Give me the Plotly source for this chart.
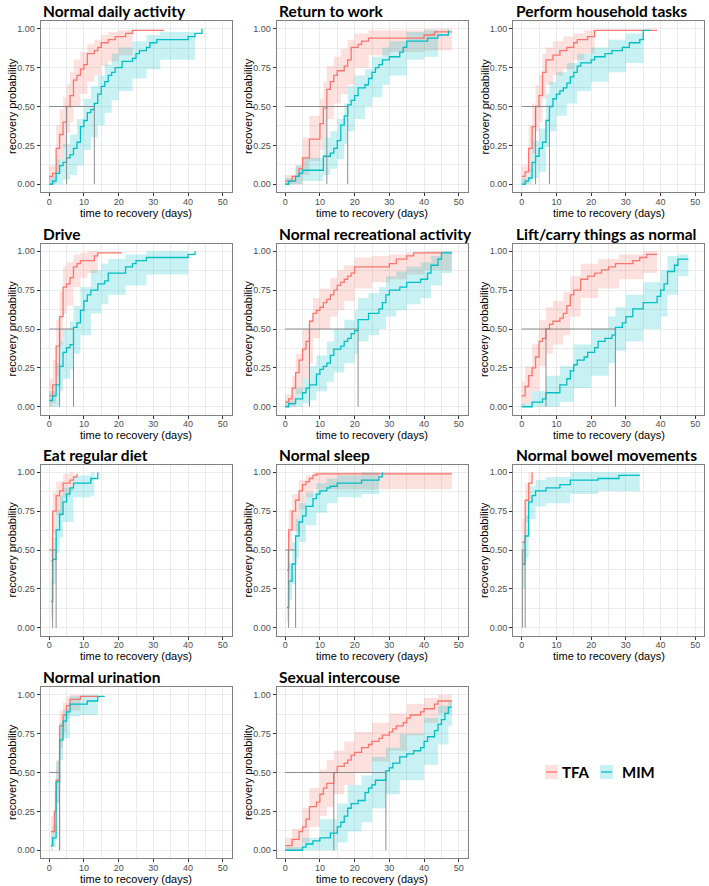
import plotly.graph_objects as go

# ---------------- data ----------------
titles = ["Normal daily activity", "Return to work", "Perform household tasks",
          "Drive", "Normal recreational activity", "Lift/carry things as normal",
          "Eat regular diet", "Normal sleep", "Normal bowel movements",
          "Normal urination", "Sexual intercouse"]
groups = ["TFA", "MIM"]
x_ticks = [0, 10, 20, 30, 40, 50]
y_ticks = [0, 0.25, 0.5, 0.75, 1.0]
y_tick_labels = ["0.00", "0.25", "0.50", "0.75", "1.00"]

# Normal daily activity
daily_tfa_t = [0, 1, 2, 3, 4, 5, 6, 7, 8, 9, 10, 11, 13, 14, 15, 17, 19, 22, 24, 33]
daily_tfa_p = [0.05, 0.07, 0.23, 0.32, 0.40, 0.50, 0.57, 0.67, 0.70, 0.74, 0.77, 0.84, 0.86, 0.88, 0.91, 0.93, 0.95, 0.97, 0.99, 0.99]
daily_tfa_bt = [0, 2, 3, 4, 5, 6, 7, 9, 11, 13, 15, 17, 20, 24]
daily_tfa_lo = [0.0, 0.08, 0.16, 0.24, 0.33, 0.40, 0.50, 0.58, 0.66, 0.70, 0.76, 0.79, 0.83, 0.83]
daily_tfa_hi = [0.12, 0.38, 0.48, 0.56, 0.64, 0.72, 0.80, 0.85, 0.90, 0.93, 0.96, 0.98, 0.99, 0.99]
daily_mim_t = [0, 1, 2, 3, 4, 5, 6, 7, 8, 9, 10, 11, 12, 13, 14, 15, 16, 17, 18, 19, 21, 24, 25, 26, 28, 29, 31, 40, 42, 44]
daily_mim_p = [0.0, 0.02, 0.07, 0.12, 0.14, 0.17, 0.19, 0.23, 0.27, 0.37, 0.41, 0.46, 0.48, 0.52, 0.58, 0.63, 0.66, 0.70, 0.72, 0.75, 0.79, 0.81, 0.84, 0.86, 0.88, 0.91, 0.93, 0.95, 0.97, 1.00]
daily_mim_bt = [0, 2, 4, 6, 8, 10, 12, 14, 16, 18, 20, 24, 28, 32, 42]
daily_mim_lo = [0.0, 0.0, 0.03, 0.06, 0.12, 0.22, 0.30, 0.38, 0.46, 0.54, 0.60, 0.68, 0.74, 0.80, 0.80]
daily_mim_hi = [0.05, 0.16, 0.26, 0.32, 0.42, 0.55, 0.63, 0.70, 0.77, 0.84, 0.88, 0.92, 0.96, 0.98, 0.98]
daily_medians = [5, 13]

# Return to work
work_tfa_t = [0, 2, 4, 5, 7, 10, 11, 12, 13, 14, 15, 17, 18, 19, 21, 22, 24, 40, 43, 48]
work_tfa_p = [0.02, 0.05, 0.10, 0.17, 0.29, 0.39, 0.49, 0.61, 0.66, 0.70, 0.73, 0.76, 0.80, 0.88, 0.90, 0.92, 0.94, 0.96, 0.98, 0.98]
work_tfa_bt = [0, 3, 5, 7, 10, 11, 12, 14, 16, 18, 20, 24, 30, 40, 48]
work_tfa_lo = [0.0, 0.0, 0.06, 0.15, 0.22, 0.30, 0.42, 0.52, 0.58, 0.64, 0.75, 0.83, 0.85, 0.86, 0.86]
work_tfa_hi = [0.06, 0.12, 0.30, 0.44, 0.55, 0.66, 0.76, 0.82, 0.87, 0.93, 0.97, 0.99, 0.99, 1.0, 1.0]
work_mim_t = [0, 1, 3, 4, 5, 11, 13, 14, 15, 16, 17, 18, 19, 20, 21, 23, 24, 25, 26, 27, 28, 30, 33, 34, 35, 41, 44, 47]
work_mim_p = [0.0, 0.02, 0.05, 0.07, 0.09, 0.18, 0.20, 0.23, 0.28, 0.38, 0.44, 0.51, 0.54, 0.57, 0.62, 0.64, 0.68, 0.72, 0.75, 0.77, 0.80, 0.82, 0.85, 0.88, 0.92, 0.94, 0.96, 0.99]
work_mim_bt = [0, 3, 5, 10, 11, 13, 15, 17, 18, 20, 23, 25, 28, 30, 35, 40, 44]
work_mim_lo = [0.0, 0.0, 0.02, 0.02, 0.06, 0.10, 0.16, 0.26, 0.34, 0.42, 0.50, 0.56, 0.64, 0.70, 0.80, 0.82, 0.82]
work_mim_hi = [0.04, 0.12, 0.17, 0.17, 0.30, 0.34, 0.42, 0.52, 0.63, 0.70, 0.74, 0.82, 0.88, 0.92, 0.98, 0.99, 0.99]
work_medians = [12, 18]

# Perform household tasks
house_tfa_t = [0, 1, 2, 3, 4, 5, 6, 7, 9, 11, 13, 15, 16, 19, 21, 39]
house_tfa_p = [0.05, 0.08, 0.23, 0.37, 0.50, 0.57, 0.72, 0.80, 0.83, 0.86, 0.88, 0.91, 0.93, 0.95, 0.99, 0.99]
house_tfa_bt = [0, 2, 3, 4, 5, 6, 7, 9, 12, 15, 18, 21]
house_tfa_lo = [0.0, 0.08, 0.20, 0.34, 0.40, 0.55, 0.64, 0.70, 0.74, 0.80, 0.84, 0.84]
house_tfa_hi = [0.12, 0.38, 0.52, 0.64, 0.70, 0.84, 0.88, 0.92, 0.95, 0.97, 0.99, 0.99]
house_mim_t = [0, 1, 2, 3, 4, 5, 6, 7, 8, 9, 10, 11, 12, 13, 14, 15, 16, 17, 20, 21, 24, 26, 29, 31, 34, 35, 37]
house_mim_p = [0.0, 0.02, 0.04, 0.14, 0.18, 0.23, 0.27, 0.41, 0.50, 0.55, 0.58, 0.60, 0.62, 0.65, 0.69, 0.72, 0.76, 0.78, 0.80, 0.82, 0.84, 0.86, 0.88, 0.91, 0.93, 0.99, 0.99]
house_mim_bt = [0, 2, 3, 5, 7, 8, 10, 13, 16, 20, 25, 30, 35]
house_mim_lo = [0.0, 0.0, 0.04, 0.08, 0.24, 0.34, 0.44, 0.52, 0.60, 0.66, 0.72, 0.78, 0.78]
house_mim_hi = [0.04, 0.10, 0.28, 0.36, 0.58, 0.66, 0.72, 0.78, 0.84, 0.88, 0.93, 0.97, 0.97]
house_medians = [4, 8]

# Drive
drive_tfa_t = [0, 1, 2, 3, 4, 5, 6, 7, 8, 9, 13, 14, 21]
drive_tfa_p = [0.07, 0.14, 0.39, 0.58, 0.77, 0.79, 0.83, 0.90, 0.92, 0.94, 0.97, 0.99, 0.99]
drive_tfa_bt = [0, 1, 2, 3, 4, 5, 7, 9, 11, 14]
drive_tfa_lo = [0.0, 0.02, 0.20, 0.40, 0.60, 0.65, 0.77, 0.83, 0.86, 0.86]
drive_tfa_hi = [0.18, 0.30, 0.56, 0.74, 0.90, 0.93, 0.98, 0.99, 1.0, 1.0]
drive_mim_t = [0, 1, 2, 3, 4, 5, 6, 7, 8, 9, 10, 11, 12, 14, 16, 17, 22, 24, 25, 28, 40, 42]
drive_mim_p = [0.04, 0.07, 0.14, 0.26, 0.35, 0.38, 0.40, 0.51, 0.54, 0.62, 0.68, 0.72, 0.75, 0.79, 0.81, 0.86, 0.90, 0.92, 0.94, 0.96, 0.98, 1.00]
drive_mim_bt = [0, 2, 3, 4, 6, 7, 9, 12, 15, 17, 22, 28, 40]
drive_mim_lo = [0.0, 0.0, 0.10, 0.18, 0.24, 0.34, 0.46, 0.60, 0.66, 0.72, 0.78, 0.85, 0.85]
drive_mim_hi = [0.10, 0.28, 0.42, 0.50, 0.55, 0.65, 0.77, 0.88, 0.92, 0.95, 0.98, 1.0, 1.0]
drive_medians = [3, 7]

# Normal recreational activity
recr_tfa_t = [0, 1, 2, 3, 4, 5, 6, 7, 8, 9, 10, 11, 12, 13, 14, 15, 16, 17, 18, 19, 20, 30, 32, 35, 37, 45]
recr_tfa_p = [0.03, 0.05, 0.12, 0.22, 0.30, 0.37, 0.42, 0.55, 0.60, 0.62, 0.64, 0.67, 0.69, 0.72, 0.75, 0.78, 0.80, 0.82, 0.84, 0.86, 0.90, 0.92, 0.95, 0.97, 0.99, 0.99]
recr_tfa_bt = [0, 2, 3, 5, 7, 8, 10, 13, 15, 17, 20, 25, 30, 35, 40, 48]
recr_tfa_lo = [0.0, 0.0, 0.08, 0.18, 0.28, 0.44, 0.50, 0.58, 0.62, 0.68, 0.76, 0.80, 0.82, 0.85, 0.88, 0.88]
recr_tfa_hi = [0.08, 0.20, 0.34, 0.50, 0.56, 0.70, 0.76, 0.83, 0.88, 0.91, 0.96, 0.97, 0.98, 0.99, 1.0, 1.0]
recr_mim_t = [0, 1, 3, 5, 6, 7, 9, 10, 11, 12, 13, 14, 16, 17, 18, 19, 20, 21, 24, 27, 28, 29, 30, 33, 35, 39, 41, 42, 44, 45, 48]
recr_mim_p = [0.0, 0.02, 0.05, 0.09, 0.12, 0.14, 0.21, 0.24, 0.26, 0.28, 0.33, 0.37, 0.39, 0.42, 0.44, 0.47, 0.49, 0.56, 0.60, 0.63, 0.67, 0.72, 0.75, 0.77, 0.80, 0.82, 0.86, 0.91, 0.95, 0.99, 0.99]
recr_mim_bt = [0, 3, 5, 7, 9, 12, 14, 17, 20, 21, 24, 27, 29, 32, 35, 39, 42, 45, 48]
recr_mim_lo = [0.0, 0.0, 0.02, 0.04, 0.10, 0.16, 0.22, 0.28, 0.34, 0.42, 0.46, 0.50, 0.58, 0.62, 0.66, 0.70, 0.78, 0.86, 0.86]
recr_mim_hi = [0.04, 0.12, 0.18, 0.26, 0.33, 0.42, 0.50, 0.56, 0.62, 0.70, 0.73, 0.77, 0.84, 0.87, 0.90, 0.93, 0.97, 1.0, 1.0]
recr_medians = [7, 21]

# Lift/carry things as normal
lift_tfa_t = [0, 1, 2, 3, 4, 5, 6, 7, 8, 9, 11, 12, 13, 14, 15, 17, 19, 21, 23, 25, 27, 32, 34, 36, 39]
lift_tfa_p = [0.07, 0.13, 0.20, 0.25, 0.32, 0.42, 0.44, 0.50, 0.53, 0.55, 0.57, 0.60, 0.65, 0.72, 0.75, 0.82, 0.84, 0.86, 0.88, 0.90, 0.92, 0.94, 0.96, 0.98, 0.98]
lift_tfa_bt = [0, 1, 3, 5, 7, 9, 12, 14, 17, 22, 28, 35, 39]
lift_tfa_lo = [0.0, 0.02, 0.10, 0.26, 0.34, 0.40, 0.46, 0.58, 0.70, 0.76, 0.82, 0.86, 0.86]
lift_tfa_hi = [0.16, 0.26, 0.40, 0.56, 0.64, 0.68, 0.74, 0.84, 0.92, 0.95, 0.98, 1.0, 1.0]
lift_mim_t = [0, 3, 6, 7, 11, 13, 14, 15, 16, 18, 19, 21, 22, 24, 26, 27, 29, 30, 32, 35, 39, 40, 41, 42, 44, 45, 48]
lift_mim_p = [0.0, 0.03, 0.05, 0.09, 0.14, 0.18, 0.23, 0.27, 0.30, 0.32, 0.35, 0.38, 0.42, 0.44, 0.46, 0.51, 0.54, 0.58, 0.63, 0.67, 0.71, 0.75, 0.79, 0.87, 0.91, 0.95, 0.95]
lift_mim_bt = [0, 3, 7, 11, 15, 20, 25, 27, 30, 35, 40, 42, 45, 48]
lift_mim_lo = [0.0, 0.0, 0.0, 0.03, 0.12, 0.20, 0.28, 0.36, 0.42, 0.50, 0.58, 0.72, 0.84, 0.84]
lift_mim_hi = [0.02, 0.10, 0.20, 0.26, 0.40, 0.50, 0.58, 0.64, 0.72, 0.80, 0.88, 0.97, 0.98, 0.98]
lift_medians = [7, 27]

# Eat regular diet
diet_tfa_t = [0.5, 1, 2, 3, 4, 6, 7, 8]
diet_tfa_p = [0.43, 0.75, 0.85, 0.88, 0.93, 0.95, 0.97, 0.99]
diet_tfa_bt = [0.5, 1, 2, 4, 6, 7]
diet_tfa_lo = [0.28, 0.60, 0.72, 0.84, 0.88, 0.88]
diet_tfa_hi = [0.58, 0.87, 0.94, 0.99, 1.0, 1.0]
diet_mim_t = [0.5, 1, 2, 3, 4, 5, 6, 7, 12, 14]
diet_mim_p = [0.17, 0.44, 0.63, 0.73, 0.81, 0.86, 0.90, 0.93, 0.96, 1.00]
diet_mim_bt = [0.5, 1, 2, 3, 4, 7, 12, 13]
diet_mim_lo = [0.06, 0.28, 0.48, 0.58, 0.68, 0.84, 0.85, 0.85]
diet_mim_hi = [0.30, 0.58, 0.76, 0.85, 0.90, 0.98, 1.0, 1.0]
diet_medians = [1, 2]

# Normal sleep
sleep_tfa_t = [0.5, 1, 2, 3, 4, 5, 6, 7, 8, 9, 48]
sleep_tfa_p = [0.37, 0.63, 0.75, 0.82, 0.88, 0.92, 0.94, 0.96, 0.98, 0.99, 0.99]
sleep_tfa_bt = [0.5, 1, 2, 4, 6, 8, 9, 48]
sleep_tfa_lo = [0.22, 0.50, 0.62, 0.76, 0.84, 0.89, 0.89, 0.89]
sleep_tfa_hi = [0.50, 0.76, 0.86, 0.95, 0.98, 1.0, 1.0, 1.0]
sleep_mim_t = [0.5, 1, 2, 3, 4, 5, 6, 8, 9, 10, 12, 13, 15, 22, 27, 28]
sleep_mim_p = [0.13, 0.30, 0.41, 0.59, 0.68, 0.72, 0.78, 0.83, 0.86, 0.88, 0.90, 0.91, 0.93, 0.95, 0.97, 1.00]
sleep_mim_bt = [0.5, 1, 2, 3, 4, 6, 9, 12, 15, 22, 27]
sleep_mim_lo = [0.04, 0.18, 0.28, 0.45, 0.55, 0.66, 0.74, 0.80, 0.84, 0.86, 0.86]
sleep_mim_hi = [0.22, 0.42, 0.55, 0.70, 0.80, 0.87, 0.93, 0.96, 0.98, 1.0, 1.0]
sleep_medians = [1, 3]

# Normal bowel movements
bowel_tfa_t = [0.2, 1, 2, 3]
bowel_tfa_p = [0.55, 0.82, 0.93, 1.00]
bowel_tfa_bt = [0.2, 1, 2, 2.5]
bowel_tfa_lo = [0.40, 0.68, 0.82, 0.82]
bowel_tfa_hi = [0.70, 0.93, 1.0, 1.0]
bowel_mim_t = [0.2, 1, 2, 3, 4, 7, 11, 14, 22, 28, 34]
bowel_mim_p = [0.41, 0.59, 0.81, 0.85, 0.88, 0.90, 0.92, 0.95, 0.96, 0.98, 0.98]
bowel_mim_bt = [0.2, 1, 2, 4, 7, 14, 22, 34]
bowel_mim_lo = [0.25, 0.45, 0.70, 0.78, 0.80, 0.86, 0.88, 0.88]
bowel_mim_hi = [0.55, 0.72, 0.91, 0.95, 0.97, 1.0, 1.0, 1.0]
bowel_medians = [0.2, 1]

# Normal urination
urin_tfa_t = [0.5, 1.5, 2, 3, 4, 5, 6, 9, 14]
urin_tfa_p = [0.12, 0.25, 0.45, 0.80, 0.87, 0.93, 0.97, 0.99, 0.99]
urin_tfa_bt = [0.5, 1.5, 2, 3, 4, 5, 6, 9]
urin_tfa_lo = [0.02, 0.12, 0.30, 0.66, 0.76, 0.85, 0.90, 0.90]
urin_tfa_hi = [0.22, 0.38, 0.58, 0.90, 0.95, 0.99, 1.0, 1.0]
urin_mim_t = [0.5, 1, 2, 3, 4, 5, 6, 11, 14, 16]
urin_mim_p = [0.03, 0.08, 0.44, 0.71, 0.83, 0.89, 0.94, 0.96, 0.99, 0.99]
urin_mim_bt = [0.5, 1, 2, 3, 4, 6, 9, 14]
urin_mim_lo = [0.0, 0.02, 0.30, 0.58, 0.72, 0.86, 0.87, 0.87]
urin_mim_hi = [0.10, 0.16, 0.57, 0.82, 0.91, 0.99, 1.0, 1.0]
urin_medians = [3, 3]

# Sexual intercourse
sex_tfa_t = [0, 2, 4, 5, 6, 7, 9, 10, 11, 12, 14, 15, 17, 18, 19, 20, 22, 24, 25, 27, 28, 30, 31, 32, 34, 35, 36, 39, 40, 43, 44, 48]
sex_tfa_p = [0.03, 0.07, 0.12, 0.15, 0.20, 0.28, 0.31, 0.36, 0.40, 0.43, 0.50, 0.54, 0.56, 0.58, 0.61, 0.63, 0.66, 0.68, 0.70, 0.72, 0.74, 0.76, 0.78, 0.80, 0.82, 0.85, 0.87, 0.89, 0.91, 0.94, 0.96, 0.96]
sex_tfa_bt = [0, 2, 5, 7, 10, 12, 14, 17, 20, 25, 30, 35, 40, 44, 48]
sex_tfa_lo = [0.0, 0.0, 0.05, 0.15, 0.22, 0.28, 0.36, 0.42, 0.50, 0.57, 0.64, 0.74, 0.82, 0.88, 0.88]
sex_tfa_hi = [0.08, 0.14, 0.27, 0.40, 0.52, 0.58, 0.64, 0.70, 0.76, 0.82, 0.88, 0.94, 0.98, 1.0, 1.0]
sex_mim_t = [0, 5, 6, 8, 10, 13, 15, 16, 17, 18, 19, 21, 23, 24, 25, 26, 29, 30, 31, 33, 35, 37, 39, 40, 41, 43, 44, 45, 46, 47, 48]
sex_mim_p = [0.0, 0.02, 0.04, 0.06, 0.08, 0.11, 0.15, 0.18, 0.22, 0.27, 0.30, 0.32, 0.37, 0.40, 0.42, 0.45, 0.51, 0.53, 0.56, 0.60, 0.62, 0.64, 0.66, 0.70, 0.73, 0.77, 0.81, 0.84, 0.88, 0.92, 0.92]
sex_mim_bt = [0, 5, 10, 15, 18, 22, 25, 29, 33, 40, 44, 47, 48]
sex_mim_lo = [0.0, 0.0, 0.0, 0.05, 0.12, 0.18, 0.27, 0.36, 0.45, 0.55, 0.68, 0.80, 0.80]
sex_mim_hi = [0.02, 0.08, 0.20, 0.30, 0.42, 0.48, 0.60, 0.66, 0.75, 0.85, 0.93, 0.96, 0.96]
sex_medians = [14, 29]

panels = [
    (daily_tfa_t, daily_tfa_p, daily_tfa_bt, daily_tfa_lo, daily_tfa_hi,
     daily_mim_t, daily_mim_p, daily_mim_bt, daily_mim_lo, daily_mim_hi, daily_medians),
    (work_tfa_t, work_tfa_p, work_tfa_bt, work_tfa_lo, work_tfa_hi,
     work_mim_t, work_mim_p, work_mim_bt, work_mim_lo, work_mim_hi, work_medians),
    (house_tfa_t, house_tfa_p, house_tfa_bt, house_tfa_lo, house_tfa_hi,
     house_mim_t, house_mim_p, house_mim_bt, house_mim_lo, house_mim_hi, house_medians),
    (drive_tfa_t, drive_tfa_p, drive_tfa_bt, drive_tfa_lo, drive_tfa_hi,
     drive_mim_t, drive_mim_p, drive_mim_bt, drive_mim_lo, drive_mim_hi, drive_medians),
    (recr_tfa_t, recr_tfa_p, recr_tfa_bt, recr_tfa_lo, recr_tfa_hi,
     recr_mim_t, recr_mim_p, recr_mim_bt, recr_mim_lo, recr_mim_hi, recr_medians),
    (lift_tfa_t, lift_tfa_p, lift_tfa_bt, lift_tfa_lo, lift_tfa_hi,
     lift_mim_t, lift_mim_p, lift_mim_bt, lift_mim_lo, lift_mim_hi, lift_medians),
    (diet_tfa_t, diet_tfa_p, diet_tfa_bt, diet_tfa_lo, diet_tfa_hi,
     diet_mim_t, diet_mim_p, diet_mim_bt, diet_mim_lo, diet_mim_hi, diet_medians),
    (sleep_tfa_t, sleep_tfa_p, sleep_tfa_bt, sleep_tfa_lo, sleep_tfa_hi,
     sleep_mim_t, sleep_mim_p, sleep_mim_bt, sleep_mim_lo, sleep_mim_hi, sleep_medians),
    (bowel_tfa_t, bowel_tfa_p, bowel_tfa_bt, bowel_tfa_lo, bowel_tfa_hi,
     bowel_mim_t, bowel_mim_p, bowel_mim_bt, bowel_mim_lo, bowel_mim_hi, bowel_medians),
    (urin_tfa_t, urin_tfa_p, urin_tfa_bt, urin_tfa_lo, urin_tfa_hi,
     urin_mim_t, urin_mim_p, urin_mim_bt, urin_mim_lo, urin_mim_hi, urin_medians),
    (sex_tfa_t, sex_tfa_p, sex_tfa_bt, sex_tfa_lo, sex_tfa_hi,
     sex_mim_t, sex_mim_p, sex_mim_bt, sex_mim_lo, sex_mim_hi, sex_medians),
]

# ---------------- styling ----------------
W, H = 709, 886
LINE_COL = {"TFA": "#F8766D", "MIM": "#00BFC4"}
FILL_COL = {"TFA": "rgba(248,118,109,0.22)", "MIM": "rgba(0,191,196,0.22)"}
MED_COL = "#8c8c8c"
GRID = "#ebebeb"
BORDER = "#808080"
AX_FONT = "Liberation Sans, Arial, sans-serif"
TITLE_FONT = "Lato, Noto Sans, sans-serif"

col_x0 = [40.5, 276.5, 513.0]
row_y0 = [21.0, 243.5, 464.5, 687.0]
PW, PH = 191.0, 171.0


def px(x):
    return x / W


def py(y):
    return 1 - y / H


fig = go.Figure()
layout = dict(width=W, height=H, margin=dict(l=0, r=0, t=0, b=0),
              paper_bgcolor="white", plot_bgcolor="white", showlegend=False)
annotations = []
shapes = []

for i, (title, pdata) in enumerate(zip(titles, panels)):
    r, c = divmod(i, 3)
    x0, y0 = col_x0[c], row_y0[r]
    xs = "x" if i == 0 else f"x{i + 1}"
    ys = "y" if i == 0 else f"y{i + 1}"
    xa = "xaxis" if i == 0 else f"xaxis{i + 1}"
    ya = "yaxis" if i == 0 else f"yaxis{i + 1}"

    series = {"TFA": pdata[0:5], "MIM": pdata[5:10]}
    medians = pdata[10]

    # confidence bands
    for g in groups:
        t, p, bt, lo, hi = series[g]
        fig.add_trace(go.Scatter(x=bt, y=lo, mode="lines", line=dict(width=0, shape="hv"),
                                 xaxis=xs, yaxis=ys, hoverinfo="skip"))
        fig.add_trace(go.Scatter(x=bt, y=hi, mode="lines", line=dict(width=0, shape="hv"),
                                 fill="tonexty", fillcolor=FILL_COL[g],
                                 xaxis=xs, yaxis=ys, hoverinfo="skip"))
    # step curves
    for g in groups:
        t, p, bt, lo, hi = series[g]
        fig.add_trace(go.Scatter(x=t, y=p, mode="lines", name=g,
                                 line=dict(color=LINE_COL[g], width=1.3, shape="hv"),
                                 xaxis=xs, yaxis=ys))
    # median lines
    mx, my = [0, max(medians), None], [0.5, 0.5, None]
    for m in medians:
        mx += [m, m, None]
        my += [0, 0.5, None]
    fig.add_trace(go.Scatter(x=mx, y=my, mode="lines", line=dict(color=MED_COL, width=1),
                             xaxis=xs, yaxis=ys, hoverinfo="skip"))

    common = dict(showline=True, linecolor=BORDER, linewidth=1, mirror=True,
                  zeroline=False, showgrid=True, gridcolor=GRID, gridwidth=1,
                  ticks="outside", ticklen=3, tickcolor="#333333", tickwidth=1,
                  tickfont=dict(family=AX_FONT, size=9, color="#4d4d4d"))
    layout[xa] = dict(common, domain=[px(x0), px(x0 + PW)], anchor=ys,
                      range=[-2.5, 52.5], tickvals=x_ticks, ticklabelstandoff=-2,
                      minor=dict(tickvals=[5, 15, 25, 35, 45], showgrid=True,
                                 gridcolor=GRID, gridwidth=0.5, ticks=""))
    layout[ya] = dict(common, domain=[py(y0 + PH), py(y0)], anchor=xs,
                      range=[-0.05, 1.05], tickvals=y_ticks, ticktext=y_tick_labels,
                      minor=dict(tickvals=[0.125, 0.375, 0.625, 0.875], showgrid=True,
                                 gridcolor=GRID, gridwidth=0.5, ticks=""))

    # panel title
    annotations.append(dict(text=f"<b>{title}</b>", x=px(x0 + 0.5), y=py(y0 - 10),
                            xref="paper", yref="paper", xanchor="left", yanchor="middle",
                            showarrow=False, font=dict(family=TITLE_FONT, size=15.5, color="black")))
    # axis titles
    annotations.append(dict(text="time to recovery (days)", x=px(x0 + PW / 2), y=py(y0 + PH + 20.5),
                            xref="paper", yref="paper", xanchor="center", yanchor="middle",
                            showarrow=False, font=dict(family=AX_FONT, size=11, color="black")))
    annotations.append(dict(text="recovery probability", x=px(x0 - 29), y=py(y0 + PH / 2),
                            xref="paper", yref="paper", xanchor="center", yanchor="middle",
                            textangle=-90, showarrow=False,
                            font=dict(family=AX_FONT, size=11, color="black")))

# custom legend in the empty cell
leg_y = 772
for g, bx, tx in [("TFA", 545, 560), ("MIM", 600, 620)]:
    shapes.append(dict(type="rect", xref="paper", yref="paper",
                       x0=px(bx), x1=px(bx + 13), y0=py(leg_y + 7), y1=py(leg_y - 7),
                       fillcolor=FILL_COL[g], line=dict(width=0)))
    shapes.append(dict(type="line", xref="paper", yref="paper",
                       x0=px(bx + 1), x1=px(bx + 12), y0=py(leg_y), y1=py(leg_y),
                       line=dict(color=LINE_COL[g], width=1.3)))
    annotations.append(dict(text=f"<b>{g}</b>", x=px(tx), y=py(leg_y), xref="paper", yref="paper",
                            xanchor="left", yanchor="middle", showarrow=False,
                            font=dict(family=TITLE_FONT, size=15, color="black")))

layout["annotations"] = annotations
layout["shapes"] = shapes
fig.update_layout(**layout)
fig.write_html("out.html")
